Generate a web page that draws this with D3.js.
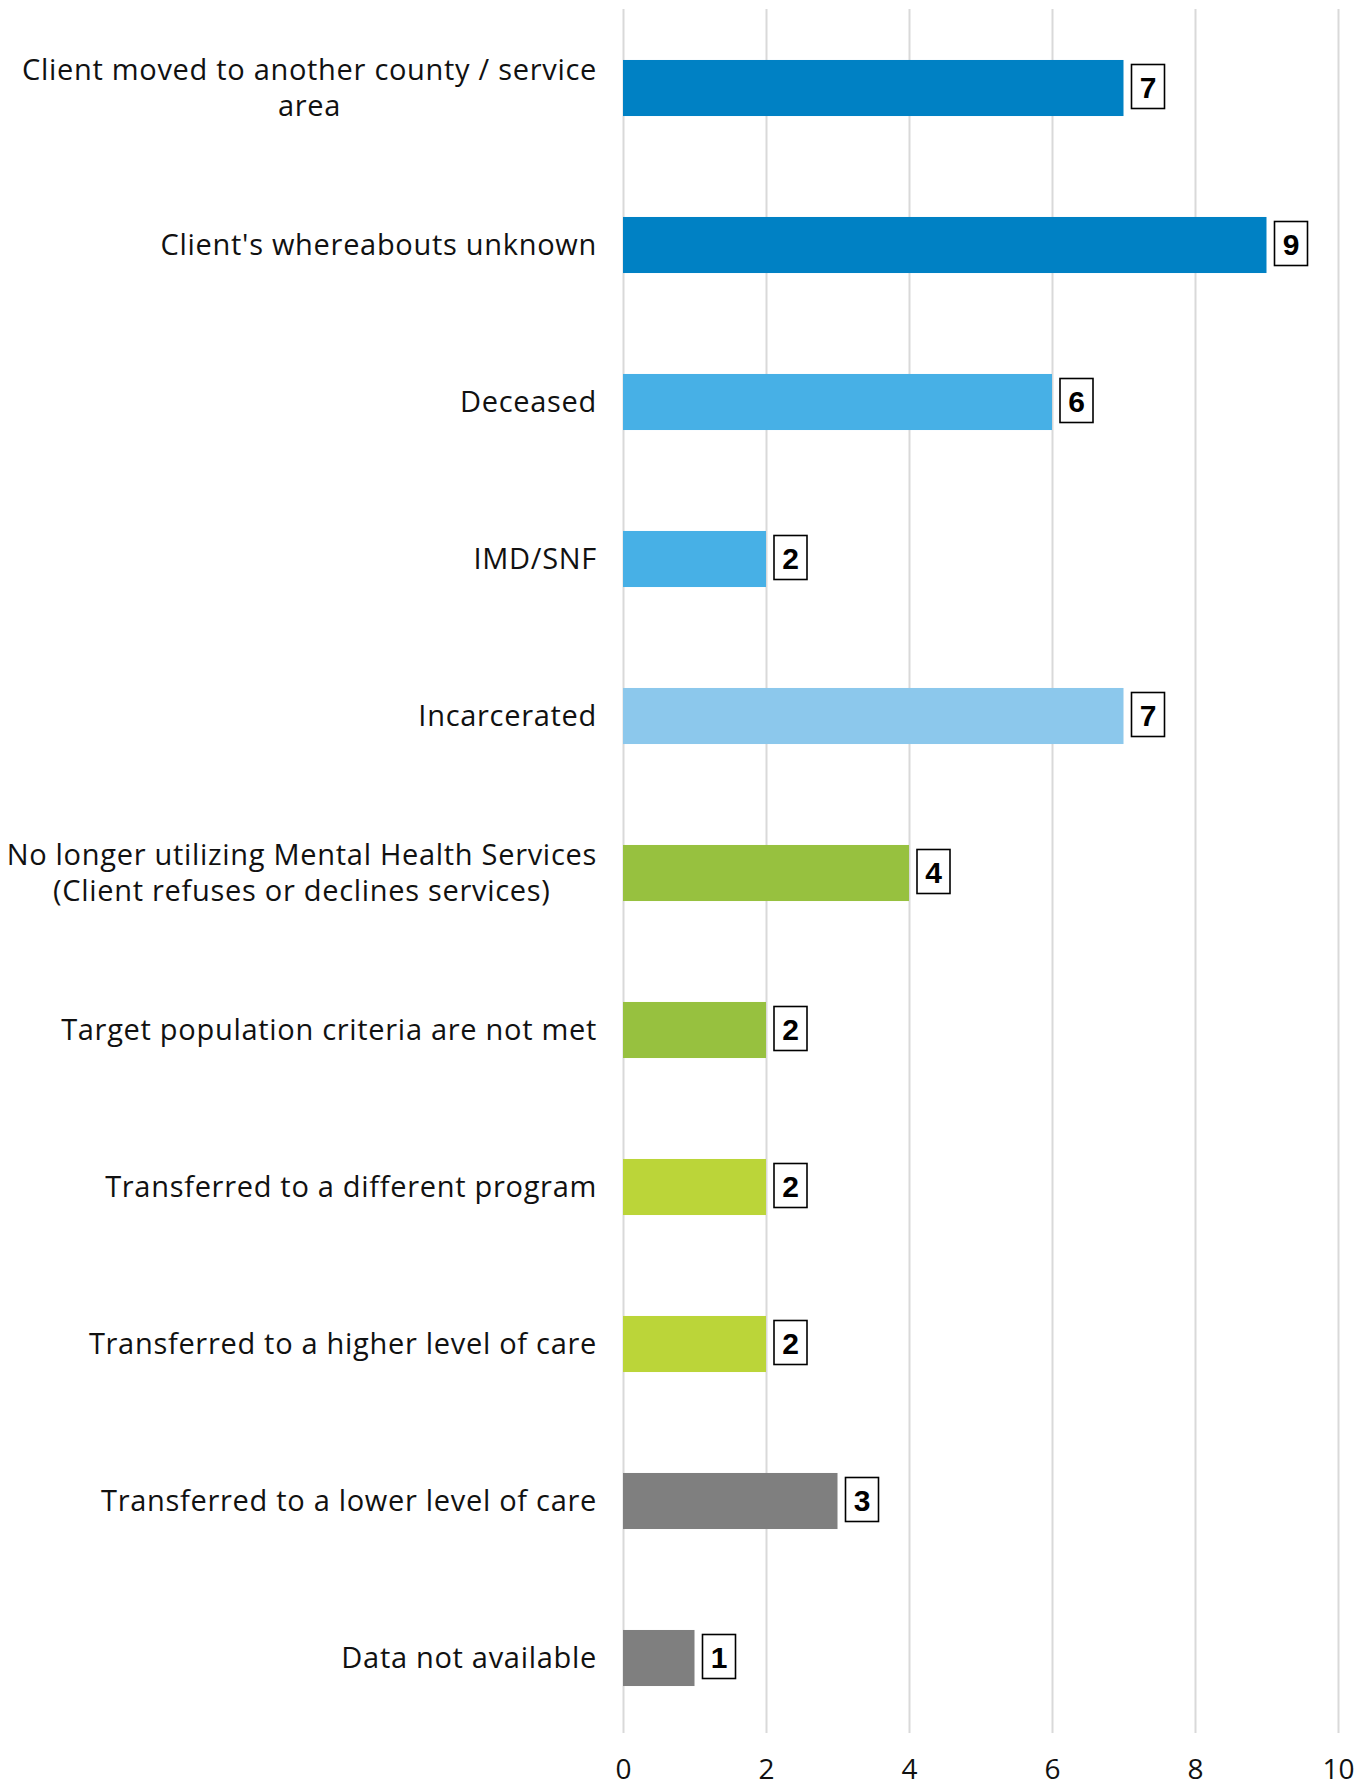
<!DOCTYPE html>
<html>
<head>
<meta charset="utf-8">
<script src="https://cdn.jsdelivr.net/npm/d3@7"></script>
<style>
  body { margin: 0; background: #fff; }
  .cat { font-family: "Open Sans", "Noto Sans", sans-serif; font-size: 29px; letter-spacing: 0.7px; fill: #111; }
  .tick text { font-family: "Open Sans", "Noto Sans", sans-serif; font-size: 28px; fill: #111; }
  .val { font-family: "Liberation Sans", Arial, sans-serif; font-weight: bold; font-size: 30px; fill: #000; }
</style>
</head>
<body>
<svg id="chart" width="1371" height="1788"></svg>
<script>
// chart values
var categories = [
    ["Client moved to another county / service", "area"],
    ["Client's whereabouts unknown"],
    ["Deceased"],
    ["IMD/SNF"],
    ["Incarcerated"],
    ["No longer utilizing Mental Health Services", "(Client refuses or declines services)"],
    ["Target population criteria are not met"],
    ["Transferred to a different program"],
    ["Transferred to a higher level of care"],
    ["Transferred to a lower level of care"],
    ["Data not available"]
];
var counts = [7, 9, 6, 2, 7, 4, 2, 2, 2, 3, 1];
var tickLabels = [0, 2, 4, 6, 8, 10];

var barColors = ["#0081c4", "#0081c4", "#47b0e6", "#47b0e6", "#8cc8ec",
                 "#97c13f", "#97c13f", "#bbd539", "#bbd539", "#7f7f7f", "#7f7f7f"];

var svg = d3.select("#chart");
var plotLeft = 623, plotRight = 1338, plotTop = 9.5, plotBottom = 1736.5;
var labelRight = 597;

var data = counts.map(function (d, i) {
    return { key: i, lines: categories[i], value: d, color: barColors[i] };
});

var x = d3.scaleLinear().domain([0, 10]).range([plotLeft, plotRight]);
var y = d3.scaleBand()
    .domain(data.map(function (d) { return d.key; }))
    .range([plotTop, plotBottom])
    .paddingInner(0.643)
    .paddingOuter(0.3215);

// vertical gridlines
var gridBottom = 1733, gridTop = 9;
var grid = svg.append("g")
    .attr("transform", "translate(0," + gridBottom + ")")
    .call(d3.axisBottom(x).tickValues(tickLabels).tickSize(-(gridBottom - gridTop)).tickFormat(""));
grid.select(".domain").remove();
grid.selectAll("line").attr("stroke", "#d9d9d9").attr("stroke-width", 2);

// tick labels
var xAxis = svg.append("g")
    .attr("transform", "translate(0,1752)")
    .call(d3.axisBottom(x).tickValues(tickLabels).tickSize(0).tickPadding(0));
xAxis.select(".domain").remove();
xAxis.selectAll("text").attr("dy", "0.95em");

// bars
svg.append("g").selectAll("rect")
    .data(data)
    .enter()
    .append("rect")
    .attr("x", x(0))
    .attr("y", function (d) { return y(d.key); })
    .attr("width", function (d) { return x(d.value) - x(0); })
    .attr("height", y.bandwidth())
    .attr("fill", function (d) { return d.color; });

// value labels in boxes
var vals = svg.append("g").selectAll("g")
    .data(data)
    .enter()
    .append("g")
    .attr("transform", function (d) {
        return "translate(" + (x(d.value) + 8) + "," + (y(d.key) + y.bandwidth() / 2 - 1.5) + ")";
    });
vals.append("rect")
    .attr("x", 0)
    .attr("y", -22)
    .attr("width", 33)
    .attr("height", 44)
    .attr("fill", "#fff")
    .attr("stroke", "#000")
    .attr("stroke-width", 1.6);
vals.append("text")
    .attr("class", "val")
    .attr("x", 16.5)
    .attr("y", 0)
    .attr("dy", "0.38em")
    .attr("text-anchor", "middle")
    .text(function (d) { return d.value; });

// category labels (multi-line ones are centred on each other, block right aligned)
var lineH = 35.5;
var labels = svg.append("g").selectAll("g")
    .data(data)
    .enter()
    .append("g");

labels.each(function (d) {
    var g = d3.select(this);
    var cy = y(d.key) + y.bandwidth() / 2;
    var n = d.lines.length;
    var texts = d.lines.map(function (line, j) {
        return g.append("text")
            .attr("class", "cat")
            .attr("y", cy + (j - (n - 1) / 2) * lineH)
            .attr("dy", "0.35em")
            .text(line);
    });
    if (n == 1) {
        texts[0].attr("x", labelRight).attr("text-anchor", "end");
    } else {
        var maxW = d3.max(texts, function (t) { return t.node().getComputedTextLength(); });
        texts.forEach(function (t) {
            t.attr("x", labelRight - maxW / 2).attr("text-anchor", "middle");
        });
    }
});
</script>
</body>
</html>
